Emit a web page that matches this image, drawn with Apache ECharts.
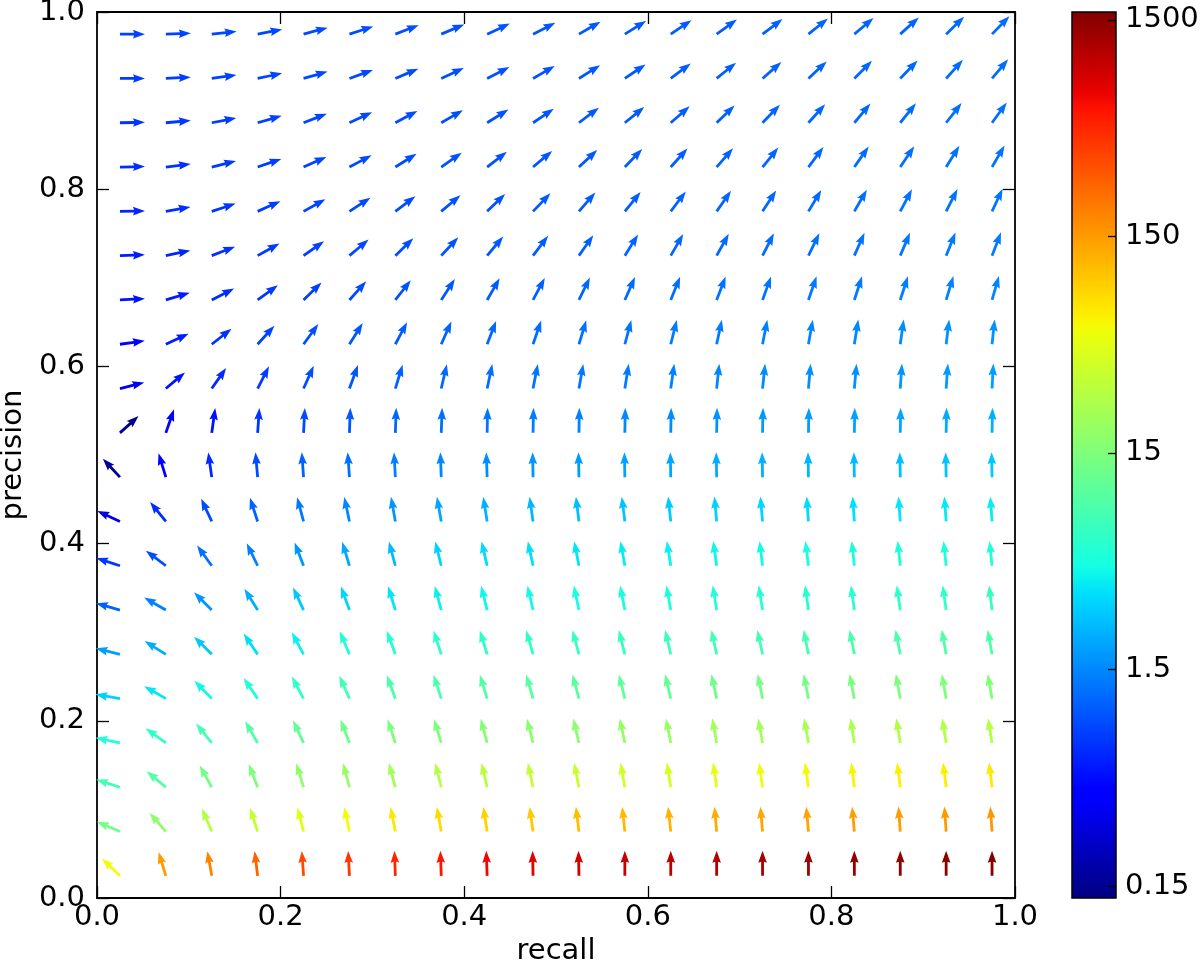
<!DOCTYPE html>
<html>
<head>
<meta charset="utf-8">
<title>precision / recall quiver</title>
<script src="https://cdn.jsdelivr.net/npm/echarts@6/dist/echarts.min.js"></script>
<style>
  html, body { margin: 0; padding: 0; background: #fff; }
  #chart { width: 1200px; height: 964px; }
</style>
</head>
<body>
<div id="chart"></div>
<script>
// arrow positions (cell centres)
const recallValues = [0.025, 0.075, 0.125, 0.175, 0.225, 0.275, 0.325, 0.375, 0.425, 0.475,
                      0.525, 0.575, 0.625, 0.675, 0.725, 0.775, 0.825, 0.875, 0.925, 0.975];
const precisionValues = [0.025, 0.075, 0.125, 0.175, 0.225, 0.275, 0.325, 0.375, 0.425, 0.475,
                         0.525, 0.575, 0.625, 0.675, 0.725, 0.775, 0.825, 0.875, 0.925, 0.975];

// arrow direction in degrees (0 = right, 90 = up), one row per precision value, bottom row first
const arrowAngles = [
  [136, 107, 100, 97, 94, 93, 92, 92, 92, 91, 91, 90, 90, 90, 90, 90, 90, 90, 90, 90],
  [157, 131, 113, 108, 104, 102, 101, 100, 99, 98, 97, 96, 96, 95, 95, 95, 95, 94, 94, 94],
  [162, 140, 119, 111, 107, 105, 105, 104, 103, 102, 101, 100, 99, 98, 98, 98, 97, 97, 97, 97],
  [168, 144, 129, 120, 115, 111, 108, 107, 105, 104, 103, 102, 101, 100, 100, 100, 99, 99, 99, 99],
  [170, 150, 134, 124, 118, 114, 110, 108, 107, 106, 105, 104, 103, 102, 101, 101, 101, 100, 100, 100],
  [166, 148, 135, 124, 118, 113, 110, 108, 107, 106, 105, 104, 103, 102, 102, 101, 101, 101, 100, 100],
  [164, 150, 135, 122, 115, 110, 107, 105, 104, 103, 102, 101, 100, 99, 99, 98, 98, 98, 98, 97],
  [162, 143, 126, 116, 111, 107, 105, 104, 103, 102, 101, 100, 99, 98, 97, 97, 96, 96, 96, 96],
  [155, 129, 115, 108, 105, 102, 100, 100, 99, 98, 97, 97, 96, 95, 95, 94, 94, 94, 94, 94],
  [133, 107, 98, 95, 94, 94, 93, 92, 92, 91, 91, 91, 91, 91, 91, 91, 91, 91, 91, 91],
  [42, 71, 82, 86, 87, 88, 88, 88, 89, 89, 89, 89, 89, 89, 89, 89, 89, 89, 89, 89],
  [14, 40, 55, 63, 66, 70, 73, 77, 78, 79, 80, 81, 82, 84, 84, 85, 85, 86, 86, 87],
  [8, 25, 38, 48, 54, 58, 62, 66, 69, 71, 73, 75, 76, 78, 79, 80, 81, 82, 83, 84],
  [3, 17, 27, 36, 44, 48, 52, 57, 60, 62, 64, 66, 68, 69, 70, 71, 72, 72, 73, 74],
  [2, 12, 21, 29, 35, 40, 44, 47, 50, 53, 55, 58, 60, 61, 63, 64, 66, 67, 68, 69],
  [1, 10, 18, 24, 29, 33, 37, 40, 44, 46, 49, 51, 53, 55, 57, 59, 60, 62, 63, 65],
  [1, 7, 14, 19, 24, 28, 32, 35, 38, 40, 43, 46, 48, 49, 51, 53, 55, 56, 58, 60],
  [1, 5, 11, 16, 21, 25, 28, 30, 32, 34, 37, 39, 41, 44, 46, 48, 50, 51, 52, 54],
  [0, 3, 8, 12, 16, 20, 23, 25, 27, 30, 32, 34, 37, 39, 41, 43, 45, 46, 48, 50],
  [0, 2, 6, 11, 15, 18, 21, 23, 25, 27, 30, 32, 34, 36, 37, 39, 40, 42, 44, 46]
];

// magnitude shown by the arrow colour (log colour scale), same layout as arrowAngles
const arrowMagnitudes = [
  [55, 150, 190, 260, 330, 400, 480, 560, 650, 740, 830, 920, 1010, 1100, 1190, 1270, 1350, 1420, 1500, 1560],
  [13, 18, 27, 34, 45, 55, 70, 80, 87, 95, 104, 110, 117, 127, 133, 138, 143, 147, 151, 155],
  [7.6, 9, 13, 15, 18, 20, 22, 27, 29, 33, 35, 38, 41, 48, 53, 58, 62, 64, 66, 68],
  [5.2, 6.3, 7.6, 9, 10.8, 12.7, 14.7, 15, 16, 17, 18, 19, 20, 22, 23, 24, 25, 26, 27, 28],
  [2.9, 3.6, 4.3, 5.2, 6.3, 7.6, 8.2, 8.5, 9, 9.5, 10, 10.5, 11, 12.5, 13, 13.5, 14, 14.5, 15, 15.5],
  [1.85, 2.1, 2.7, 3.4, 4, 5.2, 5.6, 5.8, 6, 6.3, 6.6, 6.9, 7.2, 7.5, 7.8, 8, 8.2, 8.4, 8.6, 8.8],
  [1.05, 1.4, 1.7, 2.1, 2.7, 3.1, 3.6, 4, 4.2, 4.4, 4.6, 4.8, 5, 5.2, 5.4, 5.6, 5.8, 6, 6.2, 6.4],
  [0.72, 0.86, 1.2, 1.4, 1.7, 2, 2.45, 3, 3.2, 3.4, 3.6, 3.8, 4, 4.2, 4.4, 4.6, 4.8, 5, 5.1, 5.2],
  [0.3, 0.65, 0.85, 1.05, 1.3, 1.5, 1.7, 2, 2.2, 2.35, 2.5, 2.65, 2.8, 2.95, 3.1, 3.25, 3.4, 3.55, 3.7, 3.85],
  [0.16, 0.4, 0.62, 0.85, 1.05, 1.2, 1.4, 1.5, 1.6, 1.7, 1.8, 1.9, 2, 2.1, 2.2, 2.3, 2.4, 2.5, 2.6, 2.7],
  [0.14, 0.4, 0.5, 0.7, 0.85, 0.95, 1.1, 1.2, 1.28, 1.36, 1.44, 1.52, 1.6, 1.68, 1.76, 1.84, 1.92, 2, 2.08, 2.16],
  [0.33, 0.5, 0.62, 0.75, 0.88, 0.95, 1.05, 1.12, 1.18, 1.24, 1.3, 1.36, 1.42, 1.5, 1.56, 1.62, 1.68, 1.74, 1.8, 1.86],
  [0.42, 0.56, 0.68, 0.8, 0.88, 0.95, 1, 1.06, 1.12, 1.17, 1.22, 1.27, 1.32, 1.37, 1.42, 1.47, 1.52, 1.57, 1.62, 1.67],
  [0.5, 0.56, 0.65, 0.72, 0.78, 0.84, 0.9, 0.95, 1, 1.05, 1.1, 1.14, 1.18, 1.22, 1.26, 1.3, 1.34, 1.38, 1.42, 1.46],
  [0.55, 0.6, 0.67, 0.73, 0.79, 0.84, 0.88, 0.92, 0.96, 1, 1.04, 1.08, 1.11, 1.14, 1.17, 1.2, 1.24, 1.28, 1.32, 1.36],
  [0.6, 0.64, 0.7, 0.75, 0.8, 0.84, 0.87, 0.9, 0.93, 0.96, 1, 1.03, 1.06, 1.09, 1.12, 1.15, 1.18, 1.22, 1.25, 1.28],
  [0.65, 0.68, 0.72, 0.76, 0.8, 0.84, 0.87, 0.9, 0.92, 0.95, 0.98, 1, 1.03, 1.06, 1.09, 1.12, 1.15, 1.18, 1.21, 1.24],
  [0.7, 0.72, 0.75, 0.78, 0.81, 0.84, 0.87, 0.89, 0.91, 0.94, 0.96, 0.99, 1.01, 1.04, 1.07, 1.1, 1.12, 1.15, 1.18, 1.2],
  [0.74, 0.76, 0.78, 0.8, 0.83, 0.85, 0.87, 0.89, 0.91, 0.93, 0.95, 0.97, 1, 1.02, 1.05, 1.07, 1.1, 1.12, 1.15, 1.17],
  [0.78, 0.79, 0.81, 0.83, 0.85, 0.87, 0.88, 0.9, 0.92, 0.94, 0.96, 0.98, 1, 1.02, 1.04, 1.06, 1.08, 1.1, 1.12, 1.15]
];

// colour bar range and ticks
const colorbarMin = 0.132;
const colorbarMax = 1630;
const colorbarTicks = [0.15, 1.5, 15, 150, 1500];

const logMin = Math.log10(colorbarMin);
const logMax = Math.log10(colorbarMax);
const FONT = 'DejaVu Sans';

// matplotlib "jet"
const jetStops = [
  [0, [0, 0, 0.5]], [0.11, [0, 0, 1]], [0.125, [0, 0, 1]], [0.34, [0, 0.86, 1]],
  [0.35, [0, 0.9, 0.97]], [0.375, [0.08, 1, 0.89]], [0.64, [0.94, 1, 0.03]],
  [0.65, [0.97, 0.96, 0]], [0.66, [1, 0.93, 0]], [0.89, [1, 0.07, 0]],
  [0.91, [0.91, 0, 0]], [1, [0.5, 0, 0]]
];
function jet(t) {
  for (let k = 1; k < jetStops.length; k++) {
    const [t1, c1] = jetStops[k];
    if (t <= t1) {
      const [t0, c0] = jetStops[k - 1];
      const f = t1 === t0 ? 0 : (t - t0) / (t1 - t0);
      const c = c0.map((v, n) => Math.round(255 * (v + (c1[n] - v) * f)));
      return 'rgb(' + c.join(',') + ')';
    }
  }
  return 'rgb(128,0,0)';
}
const jetColors = [];
for (let k = 0; k <= 64; k++) jetColors.push(jet(k / 64));

const arrowData = [];
precisionValues.forEach((p, j) => {
  recallValues.forEach((r, i) => {
    arrowData.push([r, p, arrowAngles[j][i], Math.log10(arrowMagnitudes[j][i]), arrowMagnitudes[j][i]]);
  });
});

// quiver-like arrow: tail at the data point, fixed screen length
function arrowPoints(x, y, deg) {
  const a = deg * Math.PI / 180;
  const ux = Math.cos(a), uy = -Math.sin(a);
  const nx = -uy, ny = ux;
  const L = 25, w = 1.4, hl = 12, hal = 10.8, hw = 4.3;
  const pts = [[0, w], [L - hal, w], [L - hl, hw], [L, 0], [L - hl, -hw], [L - hal, -w], [0, -w]];
  return pts.map(([s, t]) => [x + ux * s + nx * t, y + uy * s + ny * t]);
}

const labelStyle = { color: '#000', fontSize: 29, fontFamily: FONT };
const frameLine = { show: true, onZero: false, lineStyle: { color: '#000', width: 1.8 } };
const innerTick = { show: true, inside: true, length: 12, lineStyle: { color: '#000', width: 1.3 } };

const chart = echarts.init(document.getElementById('chart'));
chart.setOption({
  animation: false,
  backgroundColor: '#fff',
  grid: [
    { left: 97, top: 12, width: 918, height: 886, outerBoundsMode: 'none', containLabel: false },
    { left: 1072, top: 12, width: 44, height: 886, outerBoundsMode: 'none', containLabel: false }
  ],
  xAxis: [
    {
      gridIndex: 0, type: 'value', min: 0, max: 1, interval: 0.2, position: 'bottom',
      axisLine: frameLine, axisTick: innerTick, splitLine: { show: false },
      axisLabel: Object.assign({ margin: 5, formatter: v => v.toFixed(1) }, labelStyle),
      name: 'recall', nameLocation: 'middle', nameGap: 35, nameTextStyle: labelStyle
    },
    {
      gridIndex: 0, type: 'value', min: 0, max: 1, interval: 0.2, position: 'top',
      axisLine: frameLine, axisTick: innerTick, splitLine: { show: false },
      axisLabel: { show: false }
    },
    { gridIndex: 1, type: 'value', min: 0, max: 1, show: false }
  ],
  yAxis: [
    {
      gridIndex: 0, type: 'value', min: 0, max: 1, interval: 0.2, position: 'left',
      axisLine: frameLine, axisTick: innerTick, splitLine: { show: false },
      axisLabel: Object.assign({ margin: 12, formatter: v => v.toFixed(1) }, labelStyle),
      name: 'precision', nameLocation: 'middle', nameGap: 66, nameTextStyle: labelStyle
    },
    {
      gridIndex: 0, type: 'value', min: 0, max: 1, interval: 0.2, position: 'right',
      axisLine: frameLine, axisTick: innerTick, splitLine: { show: false },
      axisLabel: { show: false }
    },
    {
      gridIndex: 1, type: 'value', min: logMin, max: logMax, position: 'right', z: 10,
      axisLine: { show: false, onZero: false }, splitLine: { show: false },
      axisTick: {
        show: true, inside: true, length: 8, lineStyle: { color: '#000', width: 1.3 },
        customValues: colorbarTicks.map(Math.log10)
      },
      axisLabel: Object.assign({
        margin: 9,
        customValues: colorbarTicks.map(Math.log10),
        formatter: v => String(colorbarTicks.find(t => Math.abs(Math.log10(t) - v) < 1e-6))
      }, labelStyle)
    }
  ],
  visualMap: {
    type: 'continuous', show: false, seriesIndex: 0, dimension: 3,
    min: logMin, max: logMax, inRange: { color: jetColors }
  },
  series: [
    {
      type: 'custom', xAxisIndex: 0, yAxisIndex: 0,
      data: arrowData,
      renderItem: (params, api) => {
        const p = api.coord([api.value(0), api.value(1)]);
        return {
          type: 'polygon',
          shape: { points: arrowPoints(p[0], p[1], api.value(2)) },
          style: { fill: api.visual('color') }
        };
      }
    },
    {
      type: 'custom', xAxisIndex: 2, yAxisIndex: 2,
      data: [[0, logMin]],
      renderItem: (params, api) => {
        const tl = api.coord([0, logMax]);
        const br = api.coord([1, logMin]);
        const stops = jetColors.map((c, k) => ({ offset: 1 - k / (jetColors.length - 1), color: c })).reverse();
        return {
          type: 'rect',
          shape: { x: tl[0], y: tl[1], width: br[0] - tl[0], height: br[1] - tl[1] },
          style: {
            fill: new echarts.graphic.LinearGradient(0, 0, 0, 1, stops),
            stroke: '#000', lineWidth: 1.5
          }
        };
      }
    }
  ]
});
</script>
</body>
</html>
